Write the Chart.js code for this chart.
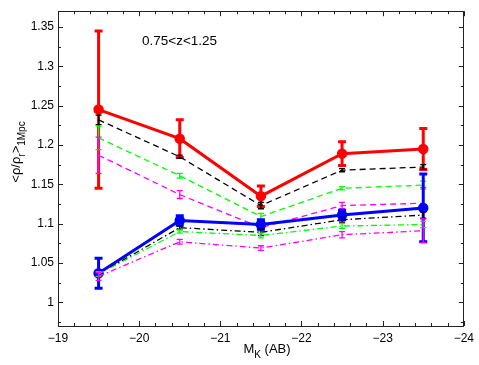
<!DOCTYPE html>
<html><head><meta charset="utf-8">
<script src="https://cdn.jsdelivr.net/npm/chart.js@4.4.0/dist/chart.umd.min.js"></script>
<style>html,body{margin:0;padding:0;background:#fff}canvas{display:block}</style>
</head><body>
<canvas id="c" width="479" height="365"></canvas>
<script>
// ---- data ----
const magnitudes = [-19.5, -20.5, -21.5, -22.5, -23.5];
const xTicks = [-19, -20, -21, -22, -23, -24];
const yTicks = [1, 1.05, 1.1, 1.15, 1.2, 1.25, 1.3, 1.35];

const redVals   = [1.245, 1.208, 1.135, 1.189, 1.195];
const redErr    = [0.100, 0.024, 0.013, 0.015, 0.026];
const blackDashVals = [1.232, 1.185, 1.123, 1.168, 1.172];
const blackDashErr  = [0.006, 0.002, 0.004, 0.002, 0.003];
const greenDashVals = [1.209, 1.161, 1.109, 1.145, 1.149];
const greenDashErr  = [0.015, 0.003, 0.004, 0.002, 0.005];
const magDashVals   = [1.187, 1.137, 1.095, 1.123, 1.126];
const magDashErr    = [0.023, 0.005, 0.004, 0.004, 0.020];
const blueVals  = [1.037, 1.104, 1.099, 1.111, 1.120];
const blueErr   = [0.019, 0.006, 0.006, 0.006, 0.043];
const blackDDVals = [1.036, 1.095, 1.089, 1.105, 1.111];
const blackDDErr  = [0.003, 0.002, 0.004, 0.003, 0.004];
const greenDDVals = [1.036, 1.090, 1.085, 1.097, 1.099];
const greenDDErr  = [0.003, 0.002, 0.003, 0.003, 0.004];
const magDDVals   = [1.033, 1.077, 1.069, 1.086, 1.091];
const magDDErr    = [0.005, 0.003, 0.003, 0.004, 0.015];

const FONT = '"Liberation Sans", Arial, Helvetica, sans-serif';

function pts(vals){ return vals.map((v,i)=>({x:magnitudes[i], y:v})); }

function series(vals, errs, color, style, order){
  const thick = style === 'thick';
  return {
    data: pts(vals), errors: errs, order: order,
    borderColor: color, backgroundColor: color,
    borderWidth: thick ? 3 : 1.3,
    borderDash: style === 'dash' ? [6,4] : (style === 'dashdot' ? [6,3,1.5,3] : []),
    pointRadius: thick ? 4.5 : 0,
    pointBorderWidth: thick ? 1.5 : 0,
    pointBackgroundColor: color, pointBorderColor: color,
    errWidth: thick ? 3 : 1.3, errCap: thick ? 4 : 3,
    tension: 0, fill: false
  };
}

const datasets = [
  series(redVals, redErr, '#ff0000', 'thick', 8),
  series(blackDashVals, blackDashErr, '#000000', 'dash', 7),
  series(greenDashVals, greenDashErr, '#00ff00', 'dash', 6),
  series(magDashVals, magDashErr, '#ff00ff', 'dash', 5),
  series(blueVals, blueErr, '#0000ff', 'thick', 4),
  series(blackDDVals, blackDDErr, '#000000', 'dashdot', 3),
  series(greenDDVals, greenDDErr, '#00ff00', 'dashdot', 2),
  series(magDDVals, magDDErr, '#ff00ff', 'dashdot', 1)
];

const errPlugin = {
  id: 'errbars',
  afterDatasetDraw(chart, args){
    const ds = chart.data.datasets[args.index];
    const xs = chart.scales.x, ys = chart.scales.y, ctx = chart.ctx;
    ctx.save();
    ctx.strokeStyle = ds.borderColor; ctx.lineWidth = ds.errWidth; ctx.setLineDash([]);
    ctx.lineCap = 'butt';
    const c = ds.errCap;
    ds.data.forEach((p,i)=>{
      const e = ds.errors[i];
      const px = xs.getPixelForValue(p.x);
      const t = ys.getPixelForValue(p.y + e), b = ys.getPixelForValue(p.y - e);
      ctx.beginPath();
      ctx.moveTo(px, t); ctx.lineTo(px, b);
      ctx.moveTo(px-c, t); ctx.lineTo(px+c, t);
      ctx.moveTo(px-c, b); ctx.lineTo(px+c, b);
      ctx.stroke();
    });
    ctx.restore();
  }
};

function drawRich(ctx, parts, size, subSize, subShift){
  let w = 0;
  parts.forEach(p=>{ ctx.font = (p.sub?subSize:size)+'px '+FONT; w += ctx.measureText(p.t).width; });
  let x = -w/2;
  parts.forEach(p=>{
    ctx.font = (p.sub?subSize:size)+'px '+FONT;
    ctx.fillText(p.t, x, p.sub ? subShift : 0);
    x += ctx.measureText(p.t).width;
  });
}

const framePlugin = {
  id: 'frame',
  afterDraw(chart){
    const ctx = chart.ctx, a = chart.chartArea, xs = chart.scales.x, ys = chart.scales.y;
    ctx.save();
    ctx.strokeStyle = '#222'; ctx.lineWidth = 1; ctx.setLineDash([]);
    ctx.strokeRect(Math.round(a.left)+0.5, Math.round(a.top)+0.5, Math.round(a.right-a.left)-1, Math.round(a.bottom-a.top));
    ctx.beginPath();
    for (let k = 0; k <= 25; k++){
      const v = -19 - k*0.2;
      const px = Math.round(xs.getPixelForValue(v)) + 0.5;
      const L = (k % 5 === 0) ? 5 : 3;
      ctx.moveTo(px, a.bottom); ctx.lineTo(px, a.bottom - L);
      ctx.moveTo(px, a.top); ctx.lineTo(px, a.top + L);
    }
    for (let k = 0; k <= 16; k++){
      const v = 0.975 + k*0.025;
      if (v > 1.37) break;
      const py = Math.round(ys.getPixelForValue(v)) + 0.5;
      const L = (k % 2 === 1) ? 5 : 3;
      ctx.moveTo(a.left, py); ctx.lineTo(a.left + L, py);
      ctx.moveTo(a.right, py); ctx.lineTo(a.right - L, py);
    }
    ctx.stroke();

    ctx.fillStyle = '#000';
    ctx.textBaseline = 'alphabetic';
    ctx.font = '13.5px ' + FONT; ctx.textAlign = 'left';
    ctx.fillText('0.75<z<1.25', 142, 44.5);
    ctx.save(); ctx.translate(267, 353);
    drawRich(ctx, [{t:'M'},{t:'K',sub:true},{t:' (AB)'}], 13, 10, 5);
    ctx.restore();
    ctx.save(); ctx.translate(20, 152); ctx.rotate(-Math.PI/2);
    drawRich(ctx, [{t:'<ρ/ρ'},{t:'r',sub:true},{t:'>'},{t:'1Mpc',sub:true}], 13, 10, 5);
    ctx.restore();
    ctx.restore();
  }
};

new Chart(document.getElementById('c'), {
  type: 'line',
  data: { datasets: datasets },
  plugins: [errPlugin, framePlugin],
  options: {
    responsive: false, animation: false, devicePixelRatio: 1,
    layout: { padding: { top: 3, right: 11, left: 0, bottom: 0 } },
    plugins: { legend: { display: false }, tooltip: { enabled: false } },
    scales: {
      x: {
        type: 'linear', reverse: true, min: -24, max: -19,
        afterBuildTicks: s => { s.ticks = xTicks.map(v=>({value:v})); },
        afterFit: s => { s.height = 39; },
        grid: { display: false, drawTicks: false }, border: { display: false },
        ticks: { padding: 5, color: '#000', font: { size: 12, family: FONT },
                 maxRotation: 0, autoSkip: false,
                 callback: v => (v < 0 ? '\u2212' : '') + Math.abs(v) }
      },
      y: {
        type: 'linear', min: 0.97, max: 1.37,
        afterBuildTicks: s => { s.ticks = yTicks.map(v=>({value:v})); },
        afterFit: s => { s.width = 58; },
        grid: { display: false, drawTicks: false }, border: { display: false },
        ticks: { padding: 4, color: '#000', font: { size: 12, family: FONT }, autoSkip: false,
                 callback: v => String(Number(v.toFixed(2))) }
      }
    }
  }
});
</script>
</body></html>
